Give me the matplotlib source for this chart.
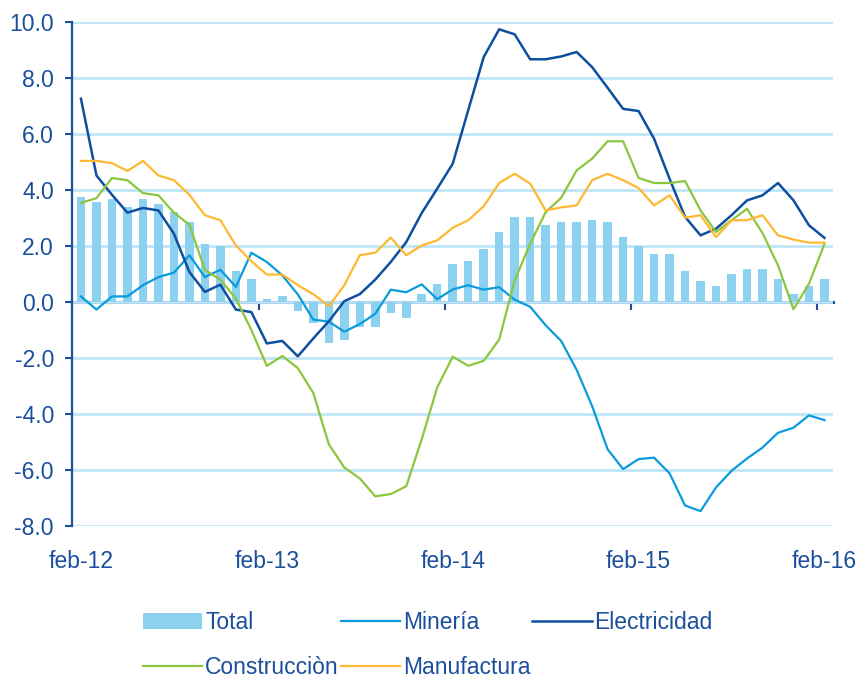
import matplotlib
matplotlib.use("Agg")
import matplotlib.pyplot as plt
import numpy as np

plt.rcParams['font.family'] = ['Liberation Sans', 'DejaVu Sans']

# monthly series, feb-12 .. feb-16 (49 months)
tick_labels = ['feb-12', 'feb-13', 'feb-14', 'feb-15', 'feb-16']

total = [3.75, 3.57, 3.67, 3.39, 3.67, 3.49, 3.23, 2.87, 2.06, 1.99, 1.10, 0.83,
         0.12, 0.21, -0.32, -0.74, -1.45, -1.36, -0.91, -0.91, -0.39, -0.56, 0.30, 0.65,
         1.37, 1.45, 1.89, 2.51, 3.04, 3.04, 2.76, 2.87, 2.87, 2.94, 2.87, 2.32,
         1.99, 1.70, 1.70, 1.10, 0.74, 0.56, 1.01, 1.19, 1.19, 0.83, 0.30, 0.56, 0.83]

mineria = [0.20, -0.27, 0.20, 0.20, 0.60, 0.89, 1.05, 1.67, 0.89, 1.15, 0.54, 1.76,
           1.43, 0.95, 0.27, -0.63, -0.70, -1.06, -0.79, -0.42, 0.44, 0.35, 0.63, 0.10,
           0.45, 0.60, 0.44, 0.53, 0.08, -0.17, -0.83, -1.39, -2.42, -3.72, -5.26, -5.97,
           -5.61, -5.56, -6.12, -7.27, -7.47, -6.62, -6.03, -5.59, -5.20, -4.67, -4.49, -4.05, -4.22]

electricidad = [7.26, 4.52, 3.83, 3.19, 3.36, 3.27, 2.44, 1.07, 0.36, 0.62, -0.27, -0.36,
                -1.48, -1.39, -1.94, -1.30, -0.69, 0.03, 0.28, 0.80, 1.43, 2.14, 3.18, 4.05,
                4.94, 6.85, 8.75, 9.74, 9.56, 8.67, 8.67, 8.77, 8.93, 8.39, 7.65, 6.90,
                6.82, 5.83, 4.40, 3.04, 2.38, 2.62, 3.10, 3.63, 3.81, 4.25, 3.63, 2.74, 2.29]

construccion = [3.54, 3.71, 4.43, 4.35, 3.89, 3.81, 3.19, 2.76, 1.15, 0.80, 0.12, -1.00,
                -2.28, -1.93, -2.36, -3.25, -5.08, -5.91, -6.30, -6.94, -6.86, -6.58, -4.90, -3.05,
                -1.95, -2.28, -2.10, -1.34, 0.77, 2.08, 3.21, 3.72, 4.70, 5.12, 5.74, 5.74,
                4.43, 4.25, 4.25, 4.32, 3.27, 2.50, 2.92, 3.33, 2.46, 1.31, -0.26, 0.65, 2.08]

manufactura = [5.04, 5.04, 4.96, 4.68, 5.04, 4.52, 4.35, 3.83, 3.10, 2.92, 2.02, 1.46,
               0.98, 0.98, 0.60, 0.28, -0.15, 0.60, 1.67, 1.76, 2.30, 1.67, 2.02, 2.20,
               2.65, 2.92, 3.42, 4.25, 4.58, 4.23, 3.27, 3.38, 3.45, 4.35, 4.58, 4.35,
               4.07, 3.45, 3.81, 3.01, 3.10, 2.32, 2.92, 2.92, 3.10, 2.38, 2.23, 2.12, 2.12]

dark = '#1B4F9C'
grid_c = '#BEE6F8'

x = np.arange(len(total))

fig = plt.figure(figsize=(8.6, 6.8), dpi=100)
ax = fig.add_axes([0.0837, 0.2265, 0.8849, 0.7411])

ax.set_axisbelow(True)
ax.yaxis.grid(True, color=grid_c, linewidth=2.0)

h_tot = ax.bar(x, total, width=0.55, color='#8DD1F1', label='Total', zorder=2)
h_min, = ax.plot(x, mineria, color='#0A9BDD', lw=1.6, label='Minería', zorder=3)
h_ele, = ax.plot(x, electricidad, color='#0E4FA0', lw=1.8, label='Electricidad', zorder=3)
h_con, = ax.plot(x, construccion, color='#8CC63E', lw=1.6, label='Construcciòn', zorder=3)
h_man, = ax.plot(x, manufactura, color='#FDB931', lw=1.6, label='Manufactura', zorder=3)

ax.set_ylim(-8, 10)
ax.set_xlim(-0.58, 48.55)
ax.set_yticks(np.arange(-8, 10.1, 2))
ax.set_yticklabels(['%.1f' % v for v in np.arange(-8, 10.1, 2)])
ax.set_xticks(np.arange(0, 49, 12))
ax.set_xticklabels(tick_labels)

for s in ['top', 'right', 'bottom']:
    ax.spines[s].set_visible(False)
ax.spines['left'].set_color(dark)
ax.spines['left'].set_linewidth(1.6)

ax.tick_params(axis='y', colors=dark, labelsize=16.5, length=5, width=1.5,
               direction='out', pad=8)
ax.tick_params(axis='x', colors=dark, labelsize=16.5, length=0, pad=17)

# zero axis line with its tick marks
sec = ax.secondary_xaxis(8 / 18)
sec.spines['bottom'].set_color(dark)
sec.spines['bottom'].set_linewidth(2.2)
sec.set_xticks([11.5, 23.5, 35.5, 47.5])
sec.set_xticklabels([])
sec.tick_params(axis='x', colors=dark, length=6, width=1.5, direction='out')

leg = fig.legend([h_tot, h_con, h_min, h_man, h_ele],
                 ['Total', 'Construcciòn', 'Minería', 'Manufactura', 'Electricidad'],
                 ncol=3, loc='upper left', frameon=False, fontsize=16.5,
                 handlelength=2.6, handletextpad=0.12, columnspacing=0.08,
                 labelspacing=0.95, borderaxespad=0, borderpad=0)
leg.set_bbox_to_anchor((0.166, 0.101), transform=fig.transFigure)
for t in leg.get_texts():
    t.set_color(dark)

fig.savefig('out.png', dpi=100)
